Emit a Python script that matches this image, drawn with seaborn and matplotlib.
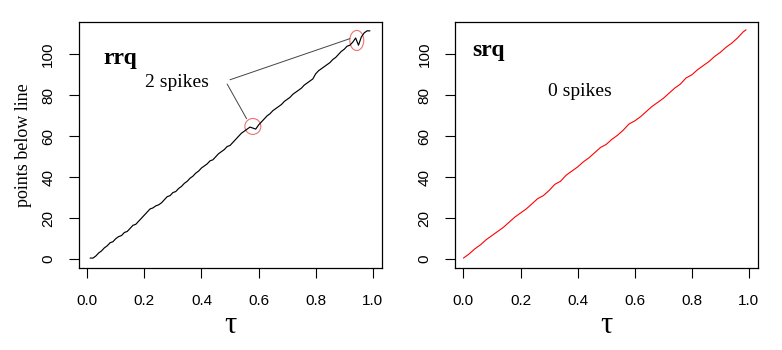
import matplotlib
matplotlib.use("Agg")
import matplotlib.pyplot as plt
from matplotlib.patches import Ellipse
import seaborn as sns
import pandas as pd

# ---- data ----
rrq_tau = [0.01, 0.02, 0.03, 0.04, 0.05, 0.06, 0.07, 0.08, 0.09, 0.10, 0.11, 0.12, 0.13,
           0.14, 0.15, 0.16, 0.17, 0.18, 0.19, 0.20, 0.21, 0.22, 0.23, 0.24, 0.25,
           0.26, 0.27, 0.28, 0.29, 0.30, 0.31, 0.32, 0.33, 0.34, 0.35, 0.36, 0.37,
           0.38, 0.39, 0.40, 0.41, 0.42, 0.43, 0.44, 0.45, 0.46, 0.47, 0.48, 0.49,
           0.50, 0.51, 0.52, 0.53, 0.54, 0.55, 0.56, 0.57, 0.58, 0.59, 0.60, 0.61,
           0.62, 0.63, 0.64, 0.65, 0.66, 0.67, 0.68, 0.69, 0.70, 0.71, 0.72, 0.73,
           0.74, 0.75, 0.76, 0.77, 0.78, 0.79, 0.80, 0.81, 0.82, 0.83, 0.84, 0.85,
           0.86, 0.87, 0.88, 0.89, 0.90, 0.91, 0.92, 0.93, 0.94, 0.95, 0.96, 0.97,
           0.98, 0.99]
rrq_pts = [0.5, 0.5, 1.5, 3, 4, 5.5, 6.5, 8, 8.5, 10, 11, 11.5, 13,
           13.5, 15, 16.5, 17, 18.5, 20, 21.5, 23, 24.5, 25, 26, 26.5,
           27.5, 29, 30.5, 31, 32.5, 33, 34.5, 35.5, 37, 38, 39.5, 40.5,
           42, 43, 44.5, 45.5, 46.5, 48, 48.5, 50, 51.5, 52.5, 53.5, 55,
           55.5, 57, 58.5, 60, 61.5, 62.5, 63.5, 64.5, 64, 63.5, 65.5, 67,
           68.5, 70, 71, 72.5, 73.5, 74.5, 75.5, 77, 78, 79, 80.5, 81.5,
           82.5, 83.5, 85, 86, 87, 88, 90.5, 92, 93, 94, 95, 96,
           97.5, 98.5, 100, 101.5, 102.5, 104, 104.5, 106, 108, 104.5, 108.5, 110.5,
           111.5, 111.5]

srq_tau = [0.0, 0.02, 0.04, 0.06, 0.08, 0.10, 0.12, 0.14, 0.16, 0.18, 0.20, 0.22,
           0.24, 0.26, 0.28, 0.30, 0.32, 0.34, 0.36, 0.38, 0.40, 0.42, 0.44, 0.46,
           0.48, 0.50, 0.52, 0.54, 0.56, 0.58, 0.60, 0.62, 0.64, 0.66, 0.68, 0.70,
           0.72, 0.74, 0.76, 0.78, 0.80, 0.82, 0.84, 0.86, 0.88, 0.90, 0.92, 0.94,
           0.96, 0.98, 0.99]
srq_pts = [0.5, 2.5, 5, 7, 9.5, 11.5, 13.5, 15.5, 18, 20.5, 22.5, 24.5,
           27, 29.5, 31, 33.5, 36.5, 38, 41, 43, 45, 47.5, 49.5, 52,
           54.5, 56, 58.5, 60.5, 63, 66, 67.5, 69.5, 72, 74.5, 76.5, 78.5,
           81, 83.5, 85.5, 88.5, 90, 92.5, 94.5, 96.5, 99, 101, 103.5, 105.5,
           108, 111, 112]

x_ticks = [0.0, 0.2, 0.4, 0.6, 0.8, 1.0]
y_ticks = [0, 20, 40, 60, 80, 100]

sns.set_style("white")
plt.rcParams["font.family"] = ["DejaVu Sans"]
plt.rcParams["text.color"] = "black"
plt.rcParams["axes.labelcolor"] = "black"
plt.rcParams["xtick.color"] = "black"
plt.rcParams["ytick.color"] = "black"
serif = ["Liberation Serif", "DejaVu Serif"]
tickfont = ["Liberation Sans Narrow", "Liberation Sans", "DejaVu Sans"]

fig = plt.figure(figsize=(7.82, 3.5), dpi=100)
ax1 = fig.add_axes([0.101, 0.234, 0.387, 0.703])
ax2 = fig.add_axes([0.582, 0.234, 0.387, 0.703])

df1 = pd.DataFrame({"tau": rrq_tau, "pts": rrq_pts})
df2 = pd.DataFrame({"tau": srq_tau, "pts": srq_pts})
sns.lineplot(data=df1, x="tau", y="pts", ax=ax1, color="black", lw=0.85)
sns.lineplot(data=df2, x="tau", y="pts", ax=ax2, color="red", lw=0.8)

for ax in (ax1, ax2):
    ax.set_xlim(-0.029, 1.031)
    ax.set_ylim(-4.4, 115.8)
    ax.set_xticks(x_ticks)
    ax.set_yticks(y_ticks)
    ax.set_xticklabels([f"{t:.1f}" for t in x_ticks], family=tickfont, fontsize=11)
    ax.set_yticklabels([str(t) for t in y_ticks], family=tickfont, fontsize=11,
                       rotation=90, va="center")
    ax.tick_params(axis="both", direction="out", length=7, width=0.8, color="black",
                   bottom=True, left=True)
    ax.tick_params(axis="x", pad=12)
    ax.tick_params(axis="y", pad=10)
    for s in ax.spines.values():
        s.set_color("black")
        s.set_linewidth(0.9)
    ax.set_xlabel("τ", family=serif, fontsize=22, labelpad=2)
    ax.set_ylabel("")

ax1.set_ylabel("points below line", family=serif, fontsize=13, labelpad=7)

# annotations
ax1.text(0.056, 98, "rrq", family=serif, fontsize=17, fontweight="bold", va="center")
ax1.text(0.203, 86.5, "2 spikes", family=serif, fontsize=14, va="center")
ax1.add_patch(Ellipse((0.58, 64.8), 0.056, 7.8, fill=False, edgecolor="#f07070", lw=0.8))
ax1.add_patch(Ellipse((0.944, 106.8), 0.049, 9.8, fill=False, edgecolor="#f07070", lw=0.8))
ax1.plot([0.50, 0.92], [87.6, 107.7], color="#444444", lw=0.7)
ax1.plot([0.49, 0.558], [85.5, 68.6], color="#444444", lw=0.7)

ax2.text(0.03, 102, "srq", family=serif, fontsize=17, fontweight="bold", va="center")
ax2.text(0.296, 81.8, "0 spikes", family=serif, fontsize=14, va="center")

fig.savefig("out.png", dpi=100)
